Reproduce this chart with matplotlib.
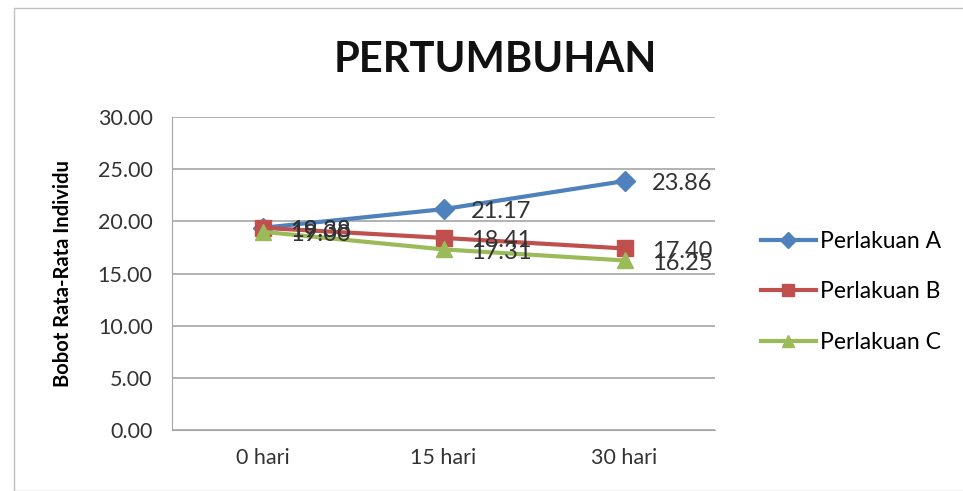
import numpy as np
import matplotlib.pyplot as plt
from matplotlib.patches import Rectangle

plt.rcParams['font.family'] = ['Lato', 'DejaVu Sans']

# Data
hari = ['0 hari', '15 hari', '30 hari']
perlakuan_a = [19.38, 21.17, 23.86]
perlakuan_b = [19.38, 18.41, 17.40]
perlakuan_c = [19.00, 17.31, 16.25]
yticks = [0, 5, 10, 15, 20, 25, 30]

series = [
    ('Perlakuan A', perlakuan_a, '#4F81BD', 'D', 10),
    ('Perlakuan B', perlakuan_b, '#C0504D', 's', 11),
    ('Perlakuan C', perlakuan_c, '#9BBB59', '^', 11),
]

fig = plt.figure(figsize=(9.63, 4.91), dpi=100)
ax = fig.add_axes([172/963, 1 - 430/491, (715-172)/963, (430-117)/491])

x = np.arange(len(hari))
for nama, vals, warna, mk, ms in series:
    ax.plot(x, vals, color=warna, lw=3, marker=mk, markersize=ms, label=nama)
    for xi, v in zip(x, vals):
        ax.annotate(f'{v:.2f}', (xi, v), xytext=(20, -2), textcoords='offset points',
                    ha='left', va='center', fontsize=17, color='#333333')

ax.set_xlim(-0.5, 2.5)
ax.set_ylim(0, 30)
ax.set_yticks(yticks)
ax.set_yticklabels([f'{t:.2f}' for t in yticks], fontsize=15.5, color='#333333')
ax.set_xticks(x)
ax.set_xticklabels(hari, fontsize=15.5, color='#333333')
ax.tick_params(axis='y', length=0, pad=14)
ax.tick_params(axis='x', length=0, pad=13)
ax.yaxis.grid(True, color='#A6A6A6', lw=1.2)
ax.set_axisbelow(True)
for s in ['top', 'right']:
    ax.spines[s].set_visible(False)
ax.spines['left'].set_color('#A6A6A6')
ax.spines['bottom'].set_color('#A6A6A6')

ax.set_ylabel('Bobot Rata-Rata Individu', fontsize=14.5, fontweight='bold', labelpad=18)

fig.text(495/963, 1 - 60/491, 'PERTUMBUHAN', ha='center', va='center',
         fontsize=30, fontweight='bold', color='#111111')

leg = fig.legend(loc='center left', bbox_to_anchor=(740/963, 1 - 292/491),
                 frameon=False, fontsize=16.5, handlelength=2.4, labelspacing=1.3,
                 handletextpad=0.2, markerscale=0.8)

fig.patches.append(Rectangle((14/963, 0), 1, 1 - 8/491, transform=fig.transFigure,
                             fill=False, edgecolor='#BFBFBF', lw=1))

fig.savefig('out.png', dpi=100)
